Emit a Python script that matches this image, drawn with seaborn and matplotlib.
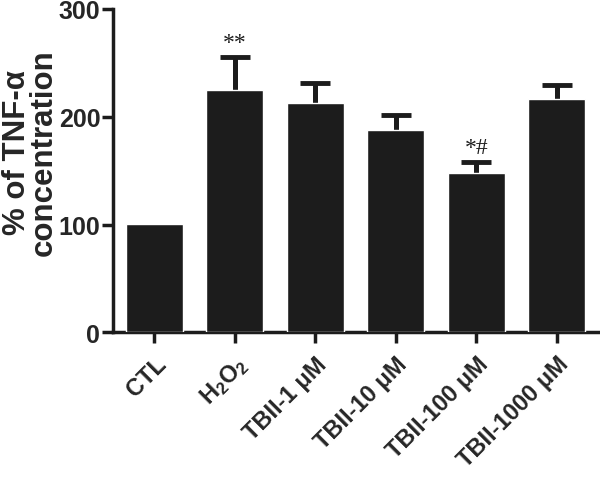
import numpy as np
import pandas as pd
import matplotlib
matplotlib.use("Agg")
import matplotlib.pyplot as plt
import seaborn as sns

# values
groups = ["CTL", "H$_2$O$_2$", "TBII-1 μM", "TBII-10 μM", "TBII-100 μM", "TBII-1000 μM"]
means = [101, 225, 213, 188, 148, 216]
sem = [0, 30, 18, 14, 10, 13]
marks = ["", "**", "", "", "*#", ""]

df = pd.DataFrame({"group": groups, "value": means})

sns.set_style("ticks")
plt.rcParams["font.family"] = ["Liberation Sans", "DejaVu Sans"]
plt.rcParams["mathtext.fontset"] = "custom"
plt.rcParams["mathtext.rm"] = "Liberation Sans:bold"
plt.rcParams["mathtext.it"] = "Liberation Sans:bold"
plt.rcParams["mathtext.bf"] = "Liberation Sans:bold"
plt.rcParams["mathtext.default"] = "bf"

fig = plt.figure(figsize=(6, 4.89), dpi=100)
ax = fig.add_axes([0.188, 0.318, 0.809, 0.662])

bar_color = "#1c1c1c"
sns.barplot(data=df, x="group", y="value", color=bar_color, saturation=1,
            width=0.71, ax=ax, zorder=3)

# upper error bars only: the lower half sits hidden behind the bars
x = np.arange(len(groups))
has_err = np.array(sem) > 0
ax.errorbar(x[has_err], np.array(means)[has_err], yerr=np.array(sem)[has_err],
            fmt="none", ecolor=bar_color, elinewidth=3.6, capsize=11,
            capthick=3.5, zorder=1)

for xi, m, s, t in zip(x, means, sem, marks):
    if t:
        ax.text(xi, m + s + 4, t, ha="center", va="bottom", fontsize=17,
                family="Liberation Serif", color=bar_color)

ax.set_ylim(0, 300)
ax.set_xlim(-0.516, 5.516)
ax.set_yticks([0, 100, 200, 300])
ax.set_ylabel("% of TNF-α\nconcentration", fontsize=22.5, fontweight="bold",
              linespacing=0.85)
ax.yaxis.set_label_coords(-0.112, 0.56)
ax.set_xlabel("")
sns.despine(ax=ax)
for side in ["left", "bottom"]:
    ax.spines[side].set_linewidth(2.5)
    ax.spines[side].set_color(bar_color)
ax.tick_params(axis="both", width=2.5, length=8, color=bar_color)
ax.tick_params(axis="y", labelsize=18, pad=1)
ax.tick_params(axis="x", labelsize=17, pad=6)
for lbl in ax.get_yticklabels():
    lbl.set_fontweight("bold")
ax.set_xticks(x)
ax.set_xticklabels(groups, rotation=45, ha="right", rotation_mode="anchor",
                   fontweight="bold")

fig.savefig("out.png", dpi=100)
